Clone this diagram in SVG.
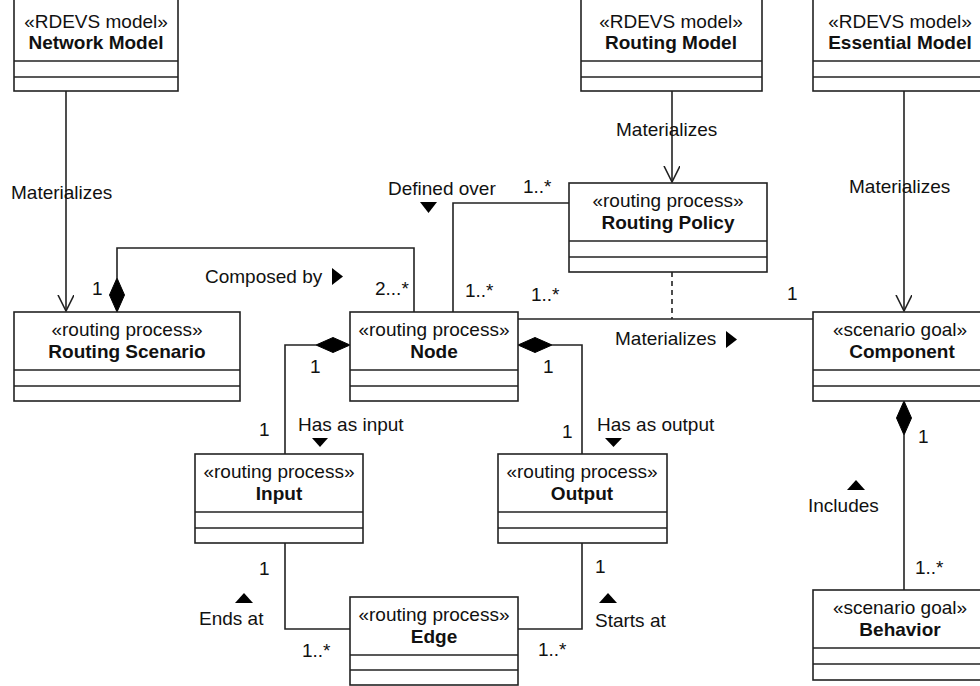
<svg xmlns="http://www.w3.org/2000/svg" width="980" height="686" viewBox="0 0 980 686">
  <style>
    .box { fill: #ffffff; stroke: #222222; stroke-width: 1.6; }
    .div { stroke: #222222; stroke-width: 1.6; }
    .line { fill: none; stroke: #222222; stroke-width: 1.6; }
    .dash { fill: none; stroke: #222222; stroke-width: 1.6; stroke-dasharray: 5 4; }
    .diamond { fill: #000000; stroke: #000000; stroke-width: 1; }
    .tri { fill: #000000; }
    text { font-family: "Liberation Sans", Arial, sans-serif; font-size: 19px; fill: #111111; }
    .st { text-anchor: middle; }
    .nm { text-anchor: middle; font-weight: bold; }
  </style>
  <defs>
    <marker id="open" markerWidth="18" markerHeight="20" refX="16" refY="8" orient="auto" markerUnits="userSpaceOnUse">
      <path d="M0,0 L16,8 L0,16" fill="none" stroke="#222222" stroke-width="1.6"/>
    </marker>
  </defs>

  <rect width="980" height="686" fill="#ffffff"/>

  <!-- connectors -->
  <g id="connectors">
    <path class="line" d="M66,91 V311" marker-end="url(#open)"/>
    <path class="line" d="M672,91 V182" marker-end="url(#open)"/>
    <path class="line" d="M904,91 V311" marker-end="url(#open)"/>
    <path class="line" d="M117,278 V248 H414 V312"/>
    <path class="diamond" d="M117,278 L124.5,295 L117,312 L109.5,295 Z"/>
    <path class="line" d="M569,203 H453 V312"/>
    <path class="line" d="M518,319 H813"/>
    <path class="dash" d="M672,272 V319"/>
    <path class="line" d="M316,345 H285 V454"/>
    <path class="diamond" d="M350,345 L333,352.5 L316,345 L333,337.5 Z"/>
    <path class="line" d="M552,345 H582 V454"/>
    <path class="diamond" d="M518,345 L535,337.5 L552,345 L535,352.5 Z"/>
    <path class="line" d="M285,543 V629 H350"/>
    <path class="line" d="M582,543 V629 H518"/>
    <path class="line" d="M904,435 V590"/>
    <path class="diamond" d="M904,401 L911.5,418 L904,435 L896.5,418 Z"/>

    <!-- association labels -->
    <text x="11" y="199">Materializes</text>
    <text x="616" y="136">Materializes</text>
    <text x="849" y="193">Materializes</text>
    <text x="388" y="195">Defined over</text>
    <path class="tri" d="M420,202 L437,202 L428.5,213 Z"/>
    <text x="523" y="193">1..*</text>
    <text x="92" y="295">1</text>
    <text x="205" y="283">Composed by</text>
    <path class="tri" d="M332,268 L343,276.5 L332,285 Z"/>
    <text x="375" y="295">2...*</text>
    <text x="465" y="297">1..*</text>
    <text x="531" y="301">1..*</text>
    <text x="787" y="300">1</text>
    <text x="615" y="345">Materializes</text>
    <path class="tri" d="M726,331 L737,339.5 L726,348 Z"/>
    <text x="310" y="373">1</text>
    <text x="543" y="373">1</text>
    <text x="259" y="436">1</text>
    <text x="298" y="431">Has as input</text>
    <path class="tri" d="M312,438 L328,438 L320,447 Z"/>
    <text x="562" y="438">1</text>
    <text x="597" y="431">Has as output</text>
    <path class="tri" d="M605,438 L622,438 L613.5,447 Z"/>
    <text x="918" y="443">1</text>
    <path class="tri" d="M847,490 L865,490 L856,480 Z"/>
    <text x="808" y="512">Includes</text>
    <text x="915" y="574">1..*</text>
    <text x="259" y="575">1</text>
    <path class="tri" d="M235,603 L253,603 L244,593 Z"/>
    <text x="199" y="625">Ends at</text>
    <text x="302" y="657">1..*</text>
    <text x="595" y="573">1</text>
    <path class="tri" d="M599,603 L617,603 L608,593 Z"/>
    <text x="595" y="627">Starts at</text>
    <text x="538" y="656">1..*</text>
  </g>

  <!-- classes -->
  <g id="network-model">
    <rect class="box" x="14" y="-10" width="164" height="101"/>
    <line class="div" x1="14" y1="61" x2="178" y2="61"/>
    <line class="div" x1="14" y1="77" x2="178" y2="77"/>
    <text class="st" x="96" y="28">«RDEVS model»</text>
    <text class="nm" x="96" y="49">Network Model</text>
  </g>

  <g id="routing-model">
    <rect class="box" x="581" y="-10" width="181" height="101"/>
    <line class="div" x1="581" y1="61" x2="762" y2="61"/>
    <line class="div" x1="581" y1="77" x2="762" y2="77"/>
    <text class="st" x="671" y="28">«RDEVS model»</text>
    <text class="nm" x="671" y="49">Routing Model</text>
  </g>

  <g id="essential-model">
    <rect class="box" x="813" y="-10" width="180" height="101"/>
    <line class="div" x1="813" y1="61" x2="993" y2="61"/>
    <line class="div" x1="813" y1="77" x2="993" y2="77"/>
    <text class="st" x="900" y="28">«RDEVS model»</text>
    <text class="nm" x="900" y="49">Essential Model</text>
  </g>

  <g id="routing-policy">
    <rect class="box" x="569" y="183" width="198" height="89"/>
    <line class="div" x1="569" y1="241" x2="767" y2="241"/>
    <line class="div" x1="569" y1="257" x2="767" y2="257"/>
    <text class="st" x="668" y="207">«routing process»</text>
    <text class="nm" x="668" y="229">Routing Policy</text>
  </g>

  <g id="routing-scenario">
    <rect class="box" x="14" y="312" width="226" height="89"/>
    <line class="div" x1="14" y1="370" x2="240" y2="370"/>
    <line class="div" x1="14" y1="386" x2="240" y2="386"/>
    <text class="st" x="127" y="336">«routing process»</text>
    <text class="nm" x="127" y="358">Routing Scenario</text>
  </g>

  <g id="node">
    <rect class="box" x="350" y="312" width="168" height="89"/>
    <line class="div" x1="350" y1="370" x2="518" y2="370"/>
    <line class="div" x1="350" y1="386" x2="518" y2="386"/>
    <text class="st" x="434" y="336">«routing process»</text>
    <text class="nm" x="434" y="358">Node</text>
  </g>

  <g id="component">
    <rect class="box" x="813" y="312" width="180" height="89"/>
    <line class="div" x1="813" y1="370" x2="993" y2="370"/>
    <line class="div" x1="813" y1="386" x2="993" y2="386"/>
    <text class="st" x="900" y="336">«scenario goal»</text>
    <text class="nm" x="902" y="358">Component</text>
  </g>

  <g id="input">
    <rect class="box" x="195" y="454" width="168" height="89"/>
    <line class="div" x1="195" y1="512" x2="363" y2="512"/>
    <line class="div" x1="195" y1="528" x2="363" y2="528"/>
    <text class="st" x="279" y="478">«routing process»</text>
    <text class="nm" x="279" y="500">Input</text>
  </g>

  <g id="output">
    <rect class="box" x="498" y="454" width="169" height="89"/>
    <line class="div" x1="498" y1="512" x2="667" y2="512"/>
    <line class="div" x1="498" y1="528" x2="667" y2="528"/>
    <text class="st" x="582" y="478">«routing process»</text>
    <text class="nm" x="582" y="500">Output</text>
  </g>

  <g id="edge">
    <rect class="box" x="350" y="597" width="168" height="88"/>
    <line class="div" x1="350" y1="655" x2="518" y2="655"/>
    <line class="div" x1="350" y1="670" x2="518" y2="670"/>
    <text class="st" x="434" y="621">«routing process»</text>
    <text class="nm" x="434" y="643">Edge</text>
  </g>

  <g id="behavior">
    <rect class="box" x="813" y="590" width="180" height="90"/>
    <line class="div" x1="813" y1="648" x2="993" y2="648"/>
    <line class="div" x1="813" y1="664" x2="993" y2="664"/>
    <text class="st" x="900" y="614">«scenario goal»</text>
    <text class="nm" x="900" y="636">Behavior</text>
  </g>
</svg>
